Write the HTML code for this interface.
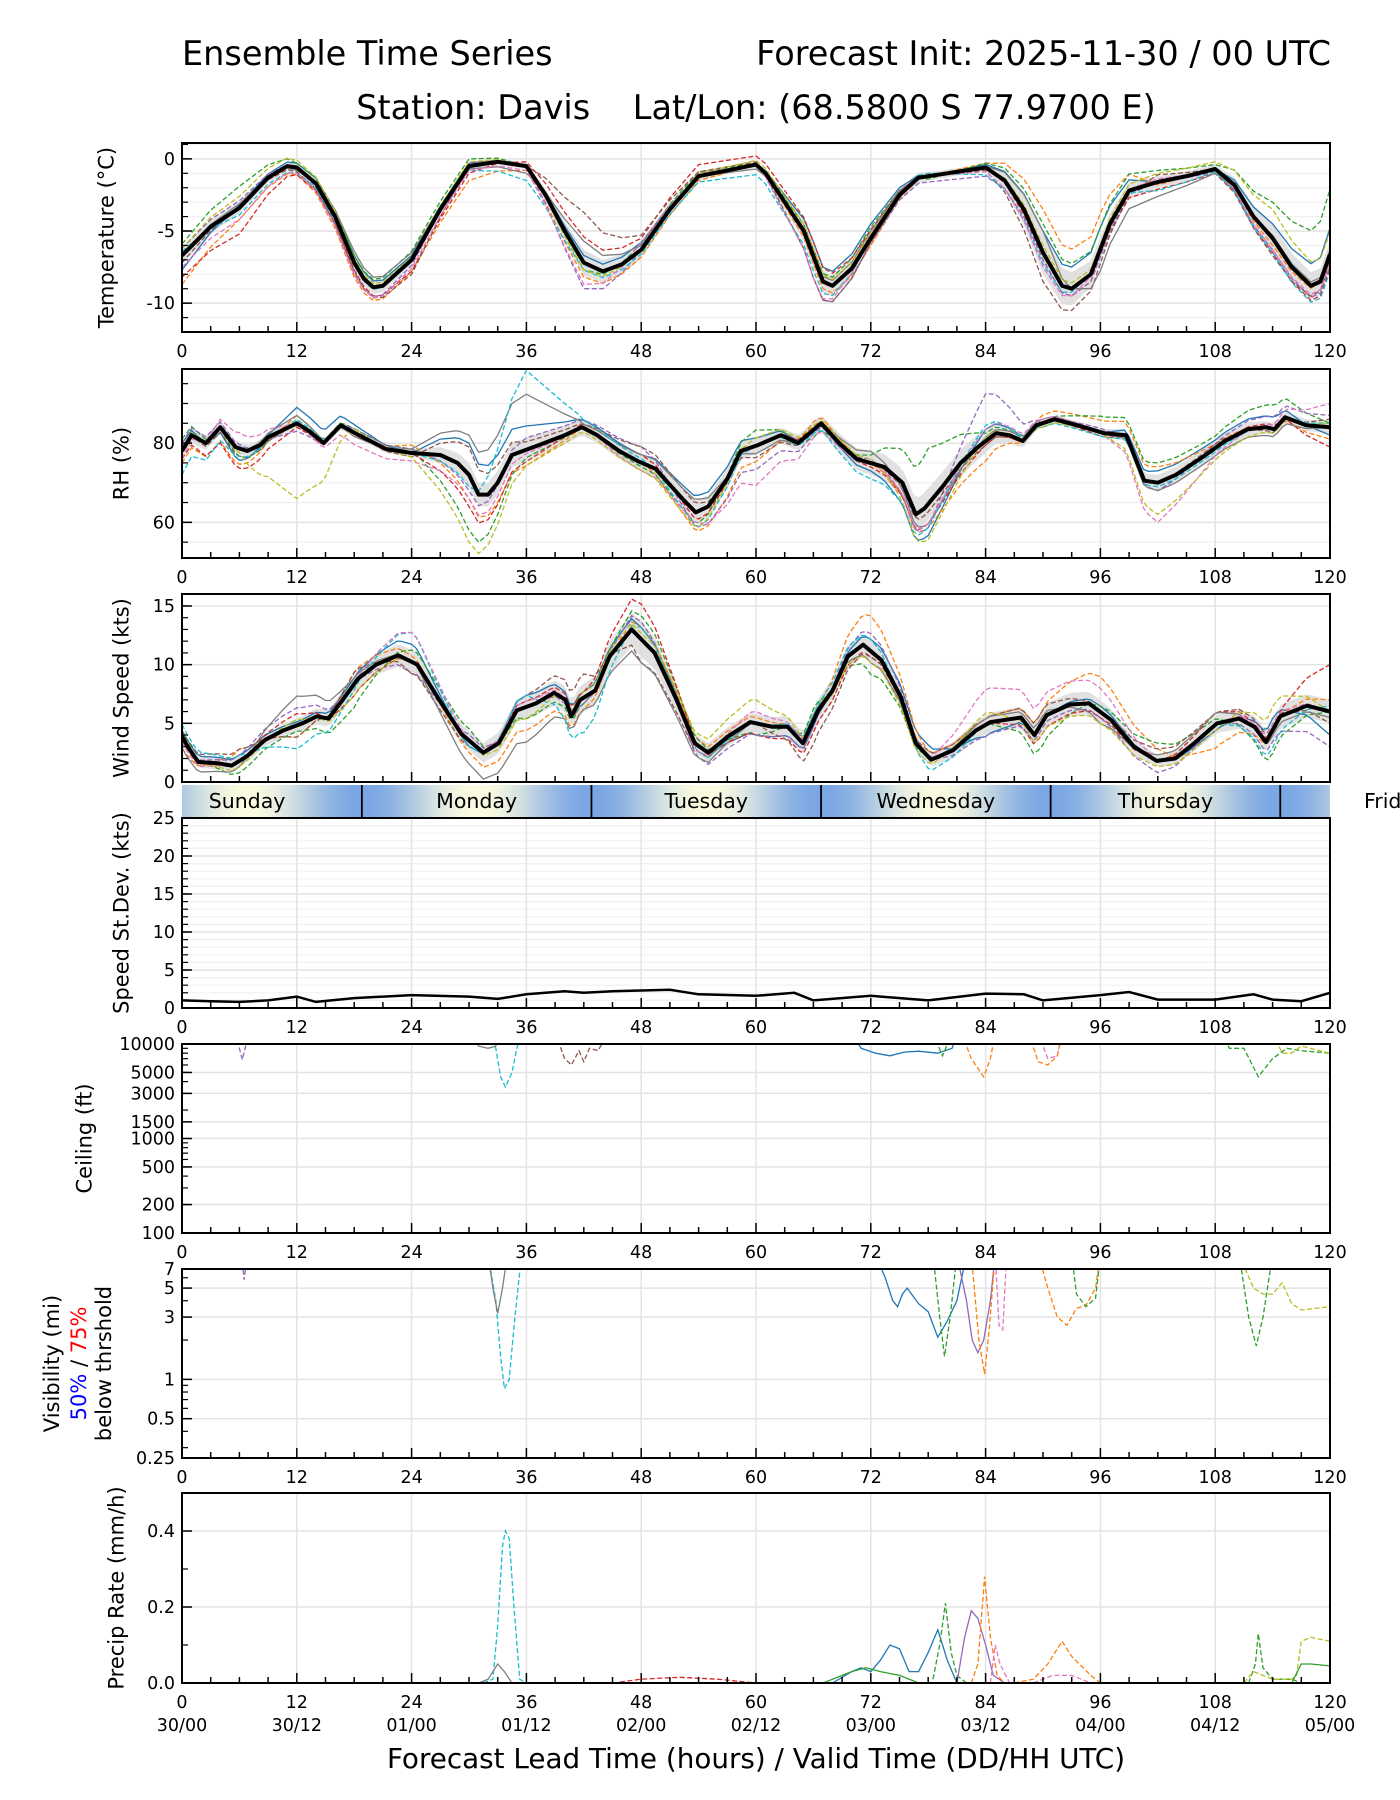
<!DOCTYPE html>
<html><head><meta charset="utf-8">
<style>
html,body{margin:0;padding:0;background:#fff;}
svg{display:block;font-family:"DejaVu Sans","Liberation Sans",sans-serif;}
</style></head>
<body>
<svg id="chart" xmlns="http://www.w3.org/2000/svg" width="1400" height="1800" viewBox="0 0 1400 1800">
<rect width="1400" height="1800" fill="#fff"/>
<text x="182" y="65" font-size="33.5" fill="#000">Ensemble Time Series</text>
<text x="1331" y="65" font-size="33.5" text-anchor="end" fill="#000">Forecast Init: 2025-11-30 / 00 UTC</text>
<text x="756" y="119" font-size="33.5" text-anchor="middle" fill="#000" xml:space="preserve">Station: Davis    Lat/Lon: (68.5800 S 77.9700 E)</text>
<text x="756" y="1768" font-size="27.8" text-anchor="middle" fill="#000">Forecast Lead Time (hours) / Valid Time (DD/HH UTC)</text>
</svg>
<script>
// ---------- DATA ----------
const tHrs=[0,3,6,9,11,12,14,16,18,19,20,21,24,27,30,33,36,38,40,42,44,46,48,51,54,57,60,61,63,65,67,68,70,72,75,77,80,84,86,88,90,92,93,95,97,99,102,105,108,110,112,114,116,118,119,120];
const tMean=[-6.7,-4.7,-3.4,-1.3,-0.5,-0.6,-1.7,-4.0,-7.2,-8.3,-8.9,-8.8,-7.0,-3.5,-0.5,-0.2,-0.5,-2.5,-5,-7.2,-7.8,-7.3,-6.3,-3.5,-1.2,-0.8,-0.4,-1.0,-3,-5,-8.5,-8.8,-7.6,-5.5,-2.5,-1.3,-1.0,-0.6,-1.5,-3.5,-6.5,-8.8,-9,-8,-4.5,-2.2,-1.6,-1.2,-0.7,-1.8,-4,-5.5,-7.5,-8.8,-8.5,-6.6];
const gridHrs=[0,6,12,18,24,30,36,42,48,54,60,66,72,78,84,90,96,102,108,114,120];
const tSpread=[0.6,0.4,0.3,0.5,0.4,0.3,0.2,0.9,0.6,0.3,0.2,0.8,0.6,0.3,0.2,1.5,0.8,0.4,0.3,1.0,0.9];
const tOffsets=[
[-1,0.2,0.3,0.5,0.3,0.2,0,0.5,0.5,0,0,1,1,0,0.2,1.5,1.5,0,0,1,1.8],
[-2,-0.8,-0.5,-1,-0.8,-1.0,-0.3,-1,-0.5,-0.3,0,-0.5,-0.5,0,0.3,3,2.5,-0.2,0.1,-0.5,0],
[0.8,1.5,0.3,0.5,0.6,0.5,0,-0.5,0.4,0.3,0.1,0.5,0.8,-0.2,0.3,2,1.5,0.8,0.3,2.5,4.5],
[-1.5,-1.8,-0.5,-0.5,-0.8,-0.5,0.3,1.8,0.8,0.8,0.6,1,0.6,0,0,-0.5,-0.5,-0.5,-0.3,-1,-1],
[0.5,0.5,0,-0.8,-0.4,0.2,0,-1.8,0,0.2,0,-1.5,-0.3,-0.4,-0.6,-0.5,-0.5,0,-0.2,-0.8,-0.8],
[-0.5,0,-0.3,-0.6,-1,0,0,3.5,1,0.3,0.2,-1.5,-0.3,0,-0.2,-2,-1,0.5,0,-1.2,-0.5],
[0,0.3,-0.2,0.8,0.5,-0.2,-0.5,1.5,0.3,0,-0.3,0.3,0.5,0,0.1,1.5,-1.5,-1,-0.3,0.2,0.3],
[0.3,-0.5,-0.4,-0.2,0,-0.3,-1,-0.5,-0.3,-0.4,-0.7,-1,0,0.2,-0.5,-0.8,0.3,-0.6,-0.2,-1,-1.2],
[-0.8,-0.8,-0.4,-0.8,-0.6,-0.3,-0.3,-1.5,0.5,0,0,-1.5,0.3,0,-0.3,-1,0,0.2,0,-0.8,-0.5],
[0.5,0.8,0.5,0.3,0.2,0.3,0,-0.5,0,0.2,0.3,0.5,0.3,0,0,0.5,0.3,0.6,0.5,2.0,1.5]];

const rhHrs=[0,1,2.5,4,5.6,6.8,8.2,9,12,13.3,14.8,16.6,18.5,21.3,24,27,28.8,30,31,32,33,34.5,37.3,40,41.8,43.4,45.7,47.6,49.5,52.3,53.7,55,57,58.4,60.2,62.6,64.4,66.8,68.7,70.5,73.4,75.3,76.7,77.6,79.5,81.4,83.2,85.1,86.5,87.9,89.3,91.2,93.6,96.4,98.7,100.6,102,103.9,106.7,109,111.4,113.3,114.2,115.3,117.5,120];
const rhMean=[78,82,80,84,79,78,79.5,81.5,85,83,80,84.5,82,78.5,77.5,77,75,72,67,67,70,77,79.5,82,84,82,78,75.5,73.5,66,62.5,64,71,78,79.5,82,80,85,80,76,74,70,62,63.5,69,75,79,82.5,82,80.5,84.5,86,84.5,82.5,82,70.5,70,72,76.5,80.5,83.5,84,83.5,86.5,84.5,84];
const rhSpread=[2,1.5,1,1,1,3,3,2,2,3,2,2,3,4,3,1,1,2,2,1.5,1.5];
const rhOffsets=[
[2,-3,4,2,0,8,6,2,2,4,2,0,-2,-8,3,0,0,3,2,3,-2],
[-3,-4,2,-1,2,-6,-4,0,0,-5,-4,2,0,-6,-5,2,3,4,1,0,-3],
[3,-2,0,1,1,-14,-2,0,-1,-3,4,-2,2,14,2,0,4,5,3,6,1],
[-2,-5,-1,0,0,-8,-3,1,2,-2,0,1,-1,-5,-1,0,-1,0,0,1,-5],
[2,1,-2,1,1,-4,3,2,4,-4,-6,-1,1,-6,12,0,1,-2,1,3,3],
[0,-2,0,0,-1,7,2,1,4,2,-3,0,0,-2,-1,0,0,0,1,-1,2],
[0,0,2,-1,1,10,14,1,2,3,-2,0,3,-5,1,1,0,-2,-2,-2,0],
[-6,-2,1,0,0,-3,20,2,1,-4,0,-1,-4,-6,4,-1,-1,-1,-1,0,1],
[-2,4,0,-3,-2,-6,-1,0,-2,-3,-10,-2,0,-5,3,1,0,-10,-2,1,6],
[1,-1,-19,1,-1,-17,-4,-1,-2,-4,2,1,1,-9,1,-1,0,-8,-3,-1,1]];

const wHrs=[0,0.6,1.7,3.7,5.2,6.8,8.7,10.6,12.6,14.1,15.3,16.8,18.4,20.3,22.6,24.6,26.9,29.2,31.5,33.1,35,37,38.9,40.1,40.7,41.6,43.2,44.7,47,49.4,51.7,53.6,55,57.1,59.4,61.7,63.3,64.9,66.5,68,69.6,71.2,73.1,75.1,76.7,78.3,80.6,83,84.5,87.7,89.1,90.4,92.8,94.8,97.1,99.5,101.9,103.8,105.8,108.2,110.5,112.1,113.3,114.8,117.6,120];
const wMean=[3.9,3.0,1.7,1.6,1.4,2.2,3.6,4.4,5.0,5.6,5.4,7.0,8.8,10.0,10.8,10.0,7.0,4.1,2.5,3.3,6.1,6.7,7.6,7.0,5.6,7.0,7.8,10.7,13.0,11.0,7.0,3.3,2.5,3.9,5.1,4.7,4.7,3.3,6.1,7.8,10.7,11.7,10.4,7.3,3.3,1.9,2.7,4.4,5.1,5.5,4.0,5.7,6.6,6.7,5.3,3.0,1.8,2.0,3.3,5.0,5.4,4.7,3.4,5.6,6.5,6.0];
const wSpread=[0.5,0.5,0.6,0.8,1,0.8,1,1.2,1.5,0.8,0.8,1,1,0.6,0.8,1,1,0.5,0.8,1,1];
const wOffsets=[
[0.5,0.5,0.3,0.5,1.5,-0.5,1,0.5,1,0,-1,-0.5,1,1,-1,0,0.5,0,-0.5,1,-2],
[-1,1,-1,1,0.5,-1,-2,-1,1,0.5,0.5,0,3,0.5,0.5,1,3,1,-2,0,1],
[0.5,-1,-0.5,-2,1,1,-1,-0.5,2,0.5,-1,1,-2,0,0,-2,0.5,1.5,0.5,-2,0],
[-0.5,0,1,-1,0,0,0.5,0.5,3,0,-1,-1,-0.5,0,0,-1,-0.5,0,1,0,4],
[0,0.5,1.5,0,-1,0.5,0,-0.5,1.5,-1,-1,-0.5,1.5,0,-1,-0.5,-0.5,-1,0,-1,-3],
[0.5,1,-1,1,-1,-0.5,1,2,-2,-0.5,0,-2,-0.5,0.5,0.5,1,0,1,1,0.5,-1],
[-1,-0.5,2.5,0.5,0,-2,-3,-1,-2,-1,0,0.5,-1,0,0.5,0.5,-1,0.5,1,-0.5,-0.5],
[1,0.5,-2,-0.5,2.5,-0.5,1,-3,1,-0.5,0,0.5,1,-1,0,0,0,0,0,-1.5,0.5],
[-0.5,0,0,0,2.5,0,0.5,0,0,-0.5,1,0,0,0,3,2,2,0,0,0.5,0],
[0,-0.5,0.5,-1,0,0,-1,0.5,0.5,1,2,0,-1,-0.5,1,-1,-1,-0.5,-0.5,2,0]];

const sdHrs=[0,3,6,9,12,14,18,24,30,33,36,40,42,45,48,51,54,60,64,66,72,78,84,88,90,96,99,102,108,112,114,117,120];
const sdMean=[1.0,0.9,0.8,1.0,1.5,0.8,1.3,1.7,1.5,1.2,1.8,2.2,2.0,2.2,2.3,2.4,1.8,1.6,2.0,1.0,1.6,1.0,1.9,1.8,1.0,1.7,2.1,1.1,1.1,1.8,1.1,0.9,2.0];

const ceilHrs=[[5.5,6,6.3,6.6,7],[32,32.8,33.3,33.8,34.5,35,35.5],[30,31,32,32.8,33.3],[39,40,40.7,41.5,42,42.6,43.5,44.5],[70,71,72.5,74,75.5,77,79,80.5,81],[78.5,79.5,80.5],[81.5,82.5,83.8,84.5,85],[89.5,90.5,91.5,92],[88.5,89.5,90.5,91.5,92],[108.5,109.5,111,112.5,114,115.5,117,120],[114,115,116,117,120]];
const ceilVals=[[13000,9000,6800,9000,13000],[13000,9000,4500,3500,5000,9000,13000],[13000,9500,9000,9500,13000],[13000,7000,6000,8500,6500,9000,8500,13000],[13000,9000,8000,7500,8200,8400,8000,9000,13000],[13000,7500,13000],[13000,7000,4500,7000,13000],[13000,7000,7500,13000],[13000,6500,6000,7500,13000],[13000,9000,9000,4500,7000,9000,8500,8000],[13000,8000,8000,9500,8000]];

const visHrs=[[6.2,6.5,6.8],[32,32.8,33.3,33.7,34.2,34.8,35.5],[32,32.5,33,33.5,34],[72.5,73.5,74.3,74.8,75.3,75.8,77,78,79,80,81,82],[78.5,79.2,79.7,80.3,81],[81,82,82.6,83.2,83.8,84.5,85],[82.5,83.3,83.9,84.4,85],[85,85.4,85.8,86.2],[89.5,90.5,91.5,92.5,93.5,94.5,95.5,96],[93,93.5,94.5,95.5,96],[110.5,111.5,112.3,113,114],[110.5,112,113,114,115,116,117,120]];
const visVals=[[9,5.8,9],[9,4,1.5,0.85,1.0,3,9],[9,5,3.2,5,9],[9,6,4,3.6,4.5,5,3.8,3.3,2.1,2.8,4,9],[9,3,1.5,3,9],[9,4,2,1.6,2,4,9],[9,2,1.1,2.5,9],[9,2.6,2.4,9],[9,5,3,2.6,3.5,3.7,5,9],[9,4.5,3.6,4.2,9],[9,3,1.8,3,9],[9,5,4.5,4.5,5.5,3.8,3.4,3.6]];

const prHrs=[[31.5,32.5,33,33.5,33.8,34.2,34.7,35.3,36],[31,32,33,33.7,34.5],[68,70,71,72,73,74,75,76,77,78,79,80,81],[78.5,79.2,79.8,80.4,81,82],[81,81.8,82.5,83.2,84,84.8,86],[82.5,83.2,83.9,84.5,85.2,86],[84.5,85,85.5,86.5],[87,89,90.5,92,93,95,96],[89,91,93,94,95],[111.5,112.2,112.5,113,114,116,117,120],[111,112,114,116,116.5,117,118,120],[116,117,118,120],[45,48,52,56,60],[67,70,71.5,73,75,77]];
const prVals=[[0,0.01,0.15,0.36,0.40,0.38,0.2,0.01,0],[0,0.01,0.05,0.03,0],[0,0.03,0.04,0.03,0.06,0.1,0.09,0.03,0.03,0.08,0.14,0.06,0],[0.01,0.1,0.21,0.08,0.02,0],[0,0.12,0.19,0.17,0.1,0.02,0],[0,0.05,0.28,0.12,0.02,0],[0,0.1,0.05,0],[0,0.01,0.05,0.11,0.07,0.02,0],[0,0.02,0.02,0.01,0],[0,0.05,0.13,0.04,0.01,0.01,0,0],[0,0.03,0.01,0.01,0.02,0.11,0.12,0.11],[0,0.05,0.05,0.045],[0,0.01,0.015,0.01,0],[0,0.03,0.04,0.03,0.02,0]];

const dayNames=["Sunday","Monday","Tuesday","Wednesday","Thursday","Friday"];
const dayBounds=[18.8,42.8,66.8,90.8,114.8];
const xTicks=[0,12,24,36,48,60,72,84,96,108,120];
const dateLabels=["30/00","30/12","01/00","01/12","02/00","02/12","03/00","03/12","04/00","04/12","05/00"];
const tTicks=[0,-5,-10];
const rhTicks=[60,80];
const wTicks=[0,5,10,15];
const sdTicks=[0,5,10,15,20,25];
const ceilTicks=[100,200,500,1000,1500,3000,5000,10000];
const visTicks=[0.25,0.5,1,3,5,7];
const prTicks=[0.0,0.2,0.4];

// ---------- STYLE / LAYOUT ----------
const NS="http://www.w3.org/2000/svg";
const svg=document.getElementById('chart');
const X0=182,X1=1330;
const LBL=21;
const C=['#1f77b4','#ff7f0e','#2ca02c','#d62728','#9467bd','#8c564b','#e377c2','#7f7f7f','#bcbd22','#17becf'];
const memberStyle=[[0,0],[1,1],[2,1],[3,1],[4,1],[5,1],[7,0],[9,1],[6,1],[8,1]];
function xs(h){return X0+h/120*(X1-X0);}
function mk(tag,attrs,parent){const e=document.createElementNS(NS,tag);for(const k in attrs)e.setAttribute(k,attrs[k]);(parent||svg).appendChild(e);return e;}
function interp(hs,vs,h){if(h<=hs[0])return vs[0];for(let i=1;i<hs.length;i++){if(h<=hs[i]){const f=(h-hs[i-1])/(hs[i]-hs[i-1]);return vs[i-1]+f*(vs[i]-vs[i-1]);}}return vs[vs.length-1];}
function mkPanel(name,t,b,min,max,log){
  const p={t,b,min,max,log,name};
  p.y=function(v){if(log){return b-(Math.log(v)-Math.log(min))/(Math.log(max)-Math.log(min))*(b-t);}return b-(v-min)/(max-min)*(b-t);};
  const g=mk('g',{});
  
  
  p.g=g;
  const cp=mk('clipPath',{id:'clip-'+name},g);
  mk('rect',{x:X0,y:t,width:X1-X0,height:b-t},cp);
  p.plot=mk('g',{'clip-path':'url(#clip-'+name+')'},g);
  return p;
}
function pathD(p,hs,vs){let d='';for(let i=0;i<hs.length;i++){d+=(i?'L':'M')+xs(hs[i]).toFixed(1)+','+p.y(vs[i]).toFixed(1);}return d;}
function grid(p,majors,minors){
  minors.forEach(v=>{const l=mk('line',{x1:X0,x2:X1,y1:p.y(v),y2:p.y(v),stroke:'#f0f0f0','stroke-width':1.2},p.plot);
    });
  xTicks.forEach(h=>{const l=mk('line',{x1:xs(h),x2:xs(h),y1:p.t,y2:p.b,stroke:'#e3e3e3','stroke-width':1.5},p.plot);
    });
  majors.forEach(v=>{const l=mk('line',{x1:X0,x2:X1,y1:p.y(v),y2:p.y(v),stroke:'#e3e3e3','stroke-width':1.5},p.plot);
    });
}
function frame(p,majors,labels,minorTicks,ylabel,ylabelX,showDates,hideXLabels){
  for(let h=0;h<=120;h+=3){const mj=h%12===0;const l=mk('line',{x1:xs(h),x2:xs(h),y1:p.b,y2:p.b-(mj?10:6),stroke:'#000','stroke-width':1.5},p.g);
    }
  minorTicks.forEach(v=>{const l=mk('line',{x1:X0,x2:X0+6,y1:p.y(v),y2:p.y(v),stroke:'#000','stroke-width':1.2},p.g);
    });
  majors.forEach((v,i)=>{const l=mk('line',{x1:X0,x2:X0+10,y1:p.y(v),y2:p.y(v),stroke:'#000','stroke-width':1.5},p.g);
    
    const tx=mk('text',{x:X0-7,y:p.y(v)+6,'font-size':17.5,'text-anchor':'end',fill:'#000'},p.g);tx.textContent=labels[i];
    });
  const r=mk('rect',{x:X0,y:p.t,width:X1-X0,height:p.b-p.t,fill:'none',stroke:'#000','stroke-width':2},p.g);
  
  if(!hideXLabels)xTicks.forEach((h,i)=>{const tx=mk('text',{x:xs(h),y:p.b+25,'font-size':17.5,'text-anchor':'middle',fill:'#000'},p.g);tx.textContent=h;
    
    if(showDates){const d=mk('text',{x:xs(h),y:p.b+48,'font-size':17.5,'text-anchor':'middle',fill:'#000'},p.g);d.textContent=dateLabels[i];
      }});
  if(ylabel){const cy=(p.t+p.b)/2;const yl=mk('text',{x:0,y:0,'font-size':LBL,'text-anchor':'middle',fill:'#000',transform:'translate('+(ylabelX+7.5)+','+cy+') rotate(-90)'},p.g);yl.textContent=ylabel;
    }
}
function ensemble(p,hs,mean,spread,offsets){
  let up='',dn='';const pts=[];
  for(let h=0;h<=120;h+=0.5)pts.push(h);
  pts.forEach((h,i)=>{const m=interp(hs,mean,h),s=interp(gridHrs,spread,h);up+=(i?'L':'M')+xs(h).toFixed(1)+','+p.y(m+s).toFixed(1);});
  pts.slice().reverse().forEach(h=>{const m=interp(hs,mean,h),s=interp(gridHrs,spread,h);dn+='L'+xs(h).toFixed(1)+','+p.y(m-s).toFixed(1);});
  const band=mk('path',{d:up+dn+'Z',fill:'#d9d9d9',opacity:0.8},p.plot);
  
  offsets.forEach((off,k)=>{
    const hh=[],vv=[];pts.forEach(h=>{hh.push(h);vv.push(interp(hs,mean,h)+interp(gridHrs,off,h));});
    const st=memberStyle[k];
    const l=mk('path',{d:pathD(p,hh,vv),fill:'none',stroke:C[st[0]],'stroke-width':1.3,'stroke-dasharray':st[1]?'5,2.5':'none'},p.plot);
    
  });
  const ml=mk('path',{d:pathD(p,hs,mean),fill:'none',stroke:'#000','stroke-width':4,'stroke-linejoin':'round'},p.plot);
  
}
function sparse(p,H,V,colors,dashes){
  H.forEach((hs,k)=>{const l=mk('path',{d:pathD(p,hs,V[k]),fill:'none',stroke:colors[k],'stroke-width':1.3,'stroke-dasharray':dashes[k]?'5,2.5':'none'},p.plot);
    });
}
function range(a,b,s){const r=[];for(let v=a;v<=b+1e-9;v+=s)r.push(+v.toFixed(3));return r;}

// Temperature
const pT=mkPanel('temperature',143,332,-12,1.1,false);
grid(pT,tTicks,range(-12,1,1));
ensemble(pT,tHrs,tMean,tSpread,tOffsets);
frame(pT,tTicks,['0','-5','-10'],range(-12,1,1),'Temperature (°C)',106,false,false);
// RH
const pR=mkPanel('rh',369,558,51,98.7,false);
grid(pR,rhTicks,range(55,95,5));
ensemble(pR,rhHrs,rhMean,rhSpread,rhOffsets);
frame(pR,rhTicks,['60','80'],range(55,95,5),'RH (%)',121,false,false);
// Wind
const pW=mkPanel('wind',594,782,0,16.02,false);
grid(pW,wTicks,[]);
ensemble(pW,wHrs,wMean,wSpread,wOffsets);
frame(pW,wTicks,['0','5','10','15'],range(0,16,1),'Wind Speed (kts)',121,false,true);

// Day band
const defs=mk('defs',{});
const lg=mk('linearGradient',{id:'dayGrad',x1:0,x2:1,y1:0,y2:0},defs);
for(let h=0;h<=120;h+=1){const ph=((h-dayBounds[0])%24+24)%24;const t=(1-Math.cos(2*Math.PI*ph/24))/2;
  const c0=[122,166,228],c1=[251,251,224];const c=c0.map((v,i)=>Math.round(v+(c1[i]-v)*t));
  mk('stop',{offset:(h/120).toFixed(4),'stop-color':'rgb('+c.join(',')+')'},lg);}
const band=mk('rect',{x:X0,y:785,width:X1-X0,height:32,fill:'url(#dayGrad)'});

dayBounds.forEach(h=>{const l=mk('line',{x1:xs(h),x2:xs(h),y1:785,y2:817,stroke:'#000','stroke-width':1.8});
  });
dayNames.forEach((n,i)=>{const h=dayBounds[0]-12+24*i;const tx=mk('text',{x:xs(h),y:808,'font-size':20.5,'text-anchor':'middle',fill:'#000'});tx.textContent=n;
  });

// Speed st dev
const pS=mkPanel('speed-stdev',818,1008,0,25,false);
grid(pS,sdTicks,range(0,25,1));
const sdl=mk('path',{d:pathD(pS,sdHrs,sdMean),fill:'none',stroke:'#000','stroke-width':2.5},pS.plot);

frame(pS,sdTicks,['0','5','10','15','20','25'],range(0,25,1),'Speed St.Dev. (kts)',121,false,false);

// Ceiling
const ceilColors=[C[4],C[9],C[7],C[5],C[0],C[2],C[1],C[6],C[1],C[2],C[8]];
const ceilDash=[1,1,0,1,0,1,1,1,1,1,1];
const pC=mkPanel('ceiling',1044,1233,100,10000,true);
grid(pC,ceilTicks,[]);
sparse(pC,ceilHrs,ceilVals,ceilColors,ceilDash);
const ceilMinor=[];[100,1000].forEach(d=>{for(let k=2;k<=9;k++)ceilMinor.push(d*k);});
frame(pC,ceilTicks,ceilTicks.map(String),ceilMinor,'Ceiling (ft)',84,false,false);

// Visibility
const visColors=[C[4],C[9],C[7],C[0],C[2],C[4],C[1],C[6],C[1],C[2],C[2],C[8]];
const visDash=[1,1,0,0,1,0,1,1,1,1,1,1];
const pV=mkPanel('visibility',1269,1458,0.25,7,true);
grid(pV,visTicks,[]);
sparse(pV,visHrs,visVals,visColors,visDash);
frame(pV,visTicks,['0.25','0.5','1','3','5','7'],[0.3,0.4,0.6,0.7,0.8,0.9,2,4,6],null,0,false,false);
(function(){const cy=(pV.t+pV.b)/2;
  const a=mk('text',{'font-size':LBL,'text-anchor':'middle',fill:'#000',transform:'translate(59,'+cy+') rotate(-90)'});a.textContent='Visibility (mi)';
  
  const b=mk('text',{'font-size':LBL,'text-anchor':'middle',fill:'#000',transform:'translate(86,'+cy+') rotate(-90)'});
  
  const s1=mk('tspan',{fill:'#0000ff'},b);s1.textContent='50%';
  const s2=mk('tspan',{fill:'#000'},b);s2.textContent=' / ';
  const s3=mk('tspan',{fill:'#ff0000'},b);s3.textContent='75%';
  const c=mk('text',{'font-size':LBL,'text-anchor':'middle',fill:'#000',transform:'translate(111,'+cy+') rotate(-90)'});c.textContent='below thrshold';
  })();

// Precip
const prColors=[C[9],C[7],C[0],C[2],C[4],C[1],C[6],C[1],C[6],C[2],C[8],C[2],C[3],C[2]];
const prDash=[1,0,0,1,0,1,1,1,1,1,1,0,1,0];
const pP=mkPanel('precip',1493,1683,0,0.5,false);
grid(pP,prTicks,[]);
sparse(pP,prHrs,prVals,prColors,prDash);
frame(pP,prTicks,['0.0','0.2','0.4'],[0.1,0.3,0.5],'Precip Rate (mm/h)',116,true,false);
</script>
</body></html>
